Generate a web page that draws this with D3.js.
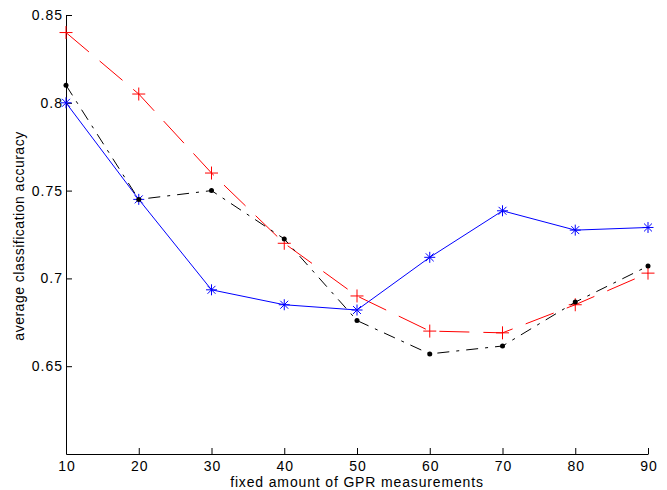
<!DOCTYPE html>
<html lang="en">
<head>
    <meta charset="UTF-8">
    <title>Average classification accuracy</title>
    <script src="https://d3js.org/d3.v7.min.js"></script>
    <style>
        body {
            margin: 0;
            padding: 0;
            background-color: #fff;
            font-family: "Liberation Sans", Arial, sans-serif;
        }
        svg text {
            fill: #000;
        }
    </style>
</head>
<body>
    <svg id="chart" width="667" height="490"></svg>

    <script>
        // Data
        const measurements = [10, 20, 30, 40, 50, 60, 70, 80, 90];
        const blueStar  = [0.800, 0.745, 0.6935, 0.685, 0.682, 0.712, 0.7385, 0.7275, 0.729];
        const redPlus   = [0.840, 0.805, 0.760, 0.720, 0.690, 0.670, 0.669, 0.685, 0.703];
        const blackDot  = [0.810, 0.745, 0.750, 0.7225, 0.676, 0.657, 0.6615, 0.6865, 0.707];
        const xTicks = [10, 20, 30, 40, 50, 60, 70, 80, 90];
        const yTicks = [0.65, 0.7, 0.75, 0.8, 0.85];

        const margin = {left: 66, top: 15, right: 19, bottom: 36};
        const width = 667, height = 490;

        const svg = d3.select('#chart');

        const x = d3.scaleLinear()
            .domain([10, 90])
            .range([margin.left, width - margin.right]);
        const y = d3.scaleLinear()
            .domain([0.6, 0.85])
            .range([height - margin.bottom, margin.top]);

        // Axes, ticks pointing inward like MATLAB
        const xAxis = d3.axisBottom(x)
            .tickValues(xTicks)
            .tickFormat(d3.format('d'))
            .tickSizeInner(-6)
            .tickSizeOuter(0)
            .tickPadding(7);
        const yAxis = d3.axisLeft(y)
            .tickValues(yTicks)
            .tickFormat(d => String(d))
            .tickSizeInner(-6)
            .tickSizeOuter(0)
            .tickPadding(3);

        const gx = svg.append('g')
            .attr('transform', `translate(0,${y(0.6)})`)
            .call(xAxis);
        const gy = svg.append('g')
            .attr('transform', `translate(${x(10)},0)`)
            .call(yAxis);

        [gx, gy].forEach(g => {
            g.selectAll('path, line').attr('stroke', '#000').attr('stroke-width', 1);
            g.selectAll('text')
                .attr('font-family', '"Liberation Sans", Arial, sans-serif')
                .attr('font-size', 14)
                .attr('letter-spacing', 1)
                .attr('fill', '#000');
        });
        gx.selectAll('text').attr('dx', '0.5');

        svg.append('text')
            .attr('x', (x(10) + x(90)) / 2)
            .attr('y', 486.5)
            .attr('text-anchor', 'middle')
            .attr('font-size', 14)
            .attr('letter-spacing', 0.85)
            .text('fixed amount of GPR measurements');

        svg.append('text')
            .attr('transform', `translate(24,236) rotate(-90)`)
            .attr('text-anchor', 'middle')
            .attr('font-size', 14)
            .attr('letter-spacing', 0.5)
            .text('average classification accuracy');

        const line = d3.line()
            .x(d => x(d[0]))
            .y(d => y(d[1]));

        const series = [
            {values: redPlus, color: '#ff0000', dash: '30,14', marker: 'plus'},
            {values: blueStar, color: '#0000ff', dash: null, marker: 'star'},
            {values: blackDot, color: '#000000', dash: '12,7,3,7', marker: 'dot'}
        ];

        series.forEach(s => {
            const pts = measurements.map((m, i) => [m, s.values[i]]);
            svg.append('path')
                .datum(pts)
                .attr('d', line)
                .attr('fill', 'none')
                .attr('stroke', s.color)
                .attr('stroke-width', 1)
                .attr('stroke-dasharray', s.dash);

            const g = svg.append('g');
            pts.forEach(p => {
                const cx = x(p[0]), cy = y(p[1]);
                if (s.marker === 'dot') {
                    g.append('circle')
                        .attr('cx', cx).attr('cy', cy).attr('r', 2.5)
                        .attr('fill', s.color);
                } else if (s.marker === 'plus') {
                    const r = 6.5;
                    g.append('path')
                        .attr('d', `M${cx - r},${cy}H${cx + r}M${cx},${cy - r}V${cy + r}`)
                        .attr('stroke', s.color).attr('stroke-width', 1);
                } else {
                    const r = 5.5, d = r * 0.72;
                    g.append('path')
                        .attr('d', `M${cx - r},${cy}H${cx + r}M${cx},${cy - r}V${cy + r}` +
                            `M${cx - d},${cy - d}L${cx + d},${cy + d}M${cx - d},${cy + d}L${cx + d},${cy - d}`)
                        .attr('stroke', s.color).attr('stroke-width', 1);
                }
            });
        });
    </script>
</body>
</html>
